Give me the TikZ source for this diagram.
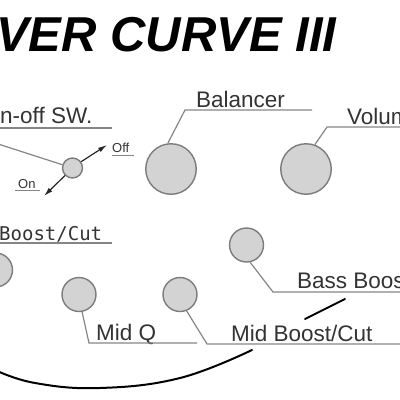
\documentclass[tikz,border=0pt]{standalone}
\usepackage{fontspec}
\setmainfont{Liberation Sans}
\newfontfamily\labelmono{DejaVu Sans Mono}
\usetikzlibrary{arrows.meta}
\definecolor{knobfill}{HTML}{D3D3D3}
\definecolor{knobedge}{HTML}{7C7C7C}
\definecolor{leadgray}{HTML}{858585}
\definecolor{labelgray}{HTML}{333333}
\begin{document}
\begin{tikzpicture}[x=1pt,y=-1pt,
  knob/.style={circle,draw=knobedge,fill=knobfill,line width=1.4pt,inner sep=0pt},
  bigknob/.style={knob,minimum size=50.5pt},
  smallknob/.style={knob,minimum size=34pt},
  switchknob/.style={knob,minimum size=20pt},
  leader/.style={draw=leadgray,line width=1.2pt},
  lbl/.style={anchor=base west,inner sep=0pt,text=labelgray,font=\fontsize{22.5}{24}\selectfont},
  monolbl/.style={anchor=base west,inner sep=0pt,text=labelgray,font=\labelmono\fontsize{19}{20}\selectfont},
  tinylbl/.style={anchor=base west,inner sep=0pt,text=labelgray,font=\fontsize{13}{14}\selectfont},
  body/.style={draw=black,line width=2pt,line cap=round},
  swarrow/.style={draw=black!85,line width=1.2pt,-{Latex[length=9pt,width=5pt]}}
]
\useasboundingbox (0,0) rectangle (400,400);
\clip (0,0) rectangle (400,400);

% heading
\node[anchor=base west,inner sep=0pt,font=\fontsize{49}{50}\selectfont\bfseries\itshape]
  (title) at (-4,51) {VER CURVE III};

% body outline
\draw[body] plot[smooth,tension=0.7] coordinates {(-5,370) (35,383) (100,388) (180,378) (252,350)};
\draw[body] (305,319) .. controls (318,312.5) and (332,305.5) .. (345,299);

% knobs
\node[switchknob] (sw) at (72.5,168) {};
\node[bigknob] (bal) at (171,169) {};
\node[bigknob] (vol) at (306,169) {};
\node[smallknob] (treb) at (-4.5,270) {};
\node[smallknob] (midq) at (79,294.5) {};
\node[smallknob] (midbc) at (180,294.5) {};
\node[smallknob] (bass) at (246.5,245) {};

% labels
\node[lbl] (swlbl) at (0,123) {n-off SW.};
\node[lbl] (ballbl) at (196,107) {Balancer};
\node[lbl] (vollbl) at (347,124) {Volume};
\node[monolbl] (treblbl) at (-1,240) {Boost/Cut};
\node[lbl] (midqlbl) at (96,340) {Mid Q};
\node[lbl] (midbclbl) at (231,341) {Mid Boost/Cut};
\node[lbl] (basslbl) at (297,288) {Bass Boost};
\node[tinylbl] (offlbl) at (112,152) {Off};
\node[tinylbl] (onlbl) at (18,188) {On};

% leader corners and ends
\coordinate (swin) at (-5,143);
\coordinate (swl1) at (0,128);   \coordinate (swl2) at (112,128);
\coordinate (balc) at (185,110); \coordinate (bale) at (312,110);
\coordinate (volc) at (327,127); \coordinate (vole) at (405,127);
\coordinate (trl1) at (0,243);   \coordinate (trl2) at (112,243);
\coordinate (mqc) at (89,343);   \coordinate (mqe) at (197,343);
\coordinate (mbc) at (207,344);  \coordinate (mbe) at (405,344);
\coordinate (bbc) at (273,292);  \coordinate (bbe) at (405,292);
\coordinate (offtip) at (107,145);
\coordinate (ontip) at (44,196);
\coordinate (offu1) at (112,155); \coordinate (offu2) at (134,155);
\coordinate (onu1) at (15,190);   \coordinate (onu2) at (40,190);

% leaders
\draw[leader] (swin) -- (sw);
\draw[leader] (swl1) -- (swl2);
\draw[leader] (bal.97) -- (balc) -- (bale);
\draw[leader] (vol.70) -- (volc) -- (vole);
\draw[leader] (trl1) -- (trl2);
\draw[leader] (midq.-80) -- (mqc) -- (mqe);
\draw[leader] (midbc.-68) -- (mbc) -- (mbe);
\draw[leader] (bass.-78) -- (bbc) -- (bbe);
\draw[leader,line width=0.9pt] (offu1) -- (offu2);
\draw[leader,line width=0.9pt] (onu1) -- (onu2);

% switch throw arrows
\draw[swarrow] (sw.36) -- (offtip);
\draw[swarrow] (sw.-135) -- (ontip);
\end{tikzpicture}
\end{document}
